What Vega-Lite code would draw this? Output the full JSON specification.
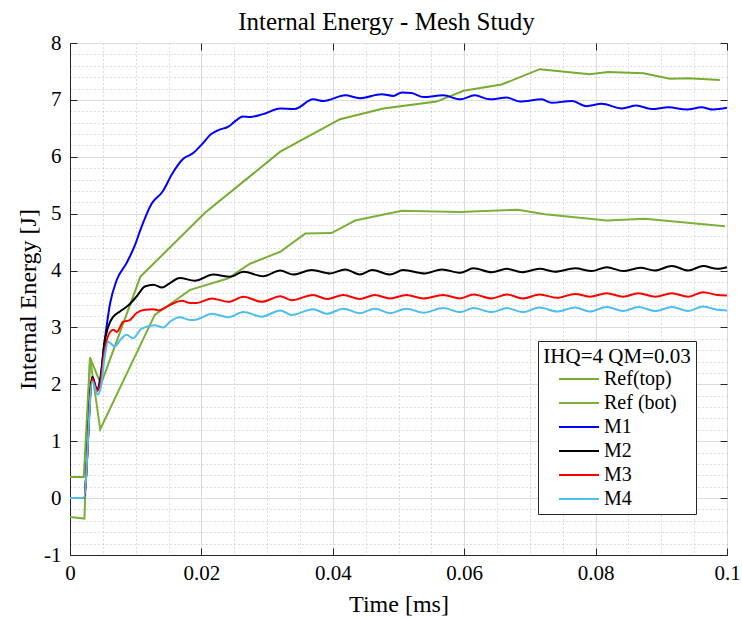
{
  "$schema": "https://vega.github.io/schema/vega-lite/v6.json",
  "width": 657,
  "height": 512,
  "autosize": "none",
  "padding": {"left": 70, "top": 43, "right": 15, "bottom": 64},
  "background": "white",
  "config": {
    "view": {"stroke": "#262626", "strokeWidth": 1},
    "font": "Liberation Serif",
    "axis": {"titleFontWeight": "normal", "labelFontWeight": "normal"}
  },
  "title": {
    "text": "Internal Energy - Mesh Study",
    "font": "Liberation Serif",
    "fontSize": 25,
    "fontWeight": "normal",
    "color": "black",
    "offset": -3,
    "dx": -12
  },
  "datasets": {
    "ref": [
      {"series": "Ref(top)", "time": 0, "energy": 0.37},
      {"series": "Ref(top)", "time": 0.0021, "energy": 0.37},
      {"series": "Ref(top)", "time": 0.00305, "energy": 2.47},
      {"series": "Ref(top)", "time": 0.0047, "energy": 2.0},
      {"series": "Ref(top)", "time": 0.0107, "energy": 3.89},
      {"series": "Ref(top)", "time": 0.0205, "energy": 5.01},
      {"series": "Ref(top)", "time": 0.032, "energy": 6.09},
      {"series": "Ref(top)", "time": 0.0411, "energy": 6.66},
      {"series": "Ref(top)", "time": 0.0477, "energy": 6.85},
      {"series": "Ref(top)", "time": 0.0558, "energy": 6.97},
      {"series": "Ref(top)", "time": 0.0599, "energy": 7.16},
      {"series": "Ref(top)", "time": 0.0657, "energy": 7.27},
      {"series": "Ref(top)", "time": 0.0715, "energy": 7.54},
      {"series": "Ref(top)", "time": 0.0791, "energy": 7.45},
      {"series": "Ref(top)", "time": 0.0819, "energy": 7.49},
      {"series": "Ref(top)", "time": 0.0873, "energy": 7.47},
      {"series": "Ref(top)", "time": 0.0913, "energy": 7.37},
      {"series": "Ref(top)", "time": 0.0941, "energy": 7.38},
      {"series": "Ref(top)", "time": 0.0989, "energy": 7.35},
      {"series": "Ref (bot)", "time": 0, "energy": -0.33},
      {"series": "Ref (bot)", "time": 0.0022, "energy": -0.36},
      {"series": "Ref (bot)", "time": 0.00305, "energy": 2.47},
      {"series": "Ref (bot)", "time": 0.0046, "energy": 1.21},
      {"series": "Ref (bot)", "time": 0.0129, "energy": 3.22},
      {"series": "Ref (bot)", "time": 0.0183, "energy": 3.66},
      {"series": "Ref (bot)", "time": 0.024, "energy": 3.86},
      {"series": "Ref (bot)", "time": 0.0274, "energy": 4.12},
      {"series": "Ref (bot)", "time": 0.032, "energy": 4.33},
      {"series": "Ref (bot)", "time": 0.0358, "energy": 4.65},
      {"series": "Ref (bot)", "time": 0.0398, "energy": 4.66},
      {"series": "Ref (bot)", "time": 0.0434, "energy": 4.88},
      {"series": "Ref (bot)", "time": 0.0505, "energy": 5.05},
      {"series": "Ref (bot)", "time": 0.0594, "energy": 5.03},
      {"series": "Ref (bot)", "time": 0.0682, "energy": 5.07},
      {"series": "Ref (bot)", "time": 0.0723, "energy": 4.99},
      {"series": "Ref (bot)", "time": 0.0817, "energy": 4.88},
      {"series": "Ref (bot)", "time": 0.0875, "energy": 4.91},
      {"series": "Ref (bot)", "time": 0.0997, "energy": 4.78}
    ],
    "mesh": [
      {"series": "M1", "time": 0, "energy": 0},
      {"series": "M1", "time": 0.0021, "energy": 0},
      {"series": "M1", "time": 0.0034, "energy": 2.13},
      {"series": "M1", "time": 0.0041, "energy": 1.91},
      {"series": "M1", "time": 0.0046, "energy": 2.1},
      {"series": "M1", "time": 0.0053, "energy": 2.78},
      {"series": "M1", "time": 0.0061, "energy": 3.42},
      {"series": "M1", "time": 0.0071, "energy": 3.83},
      {"series": "M1", "time": 0.0086, "energy": 4.13},
      {"series": "M1", "time": 0.0099, "energy": 4.45},
      {"series": "M1", "time": 0.0107, "energy": 4.71},
      {"series": "M1", "time": 0.0124, "energy": 5.17},
      {"series": "M1", "time": 0.0141, "energy": 5.39},
      {"series": "M1", "time": 0.0156, "energy": 5.71},
      {"series": "M1", "time": 0.0172, "energy": 5.96},
      {"series": "M1", "time": 0.0188, "energy": 6.07},
      {"series": "M1", "time": 0.02, "energy": 6.21},
      {"series": "M1", "time": 0.0215, "energy": 6.4},
      {"series": "M1", "time": 0.0226, "energy": 6.47},
      {"series": "M1", "time": 0.0241, "energy": 6.53},
      {"series": "M1", "time": 0.0252, "energy": 6.63},
      {"series": "M1", "time": 0.0263, "energy": 6.71},
      {"series": "M1", "time": 0.0274, "energy": 6.7},
      {"series": "M1", "time": 0.0294, "energy": 6.75},
      {"series": "M1", "time": 0.032, "energy": 6.85},
      {"series": "M1", "time": 0.0342, "energy": 6.84},
      {"series": "M1", "time": 0.037, "energy": 7.01},
      {"series": "M1", "time": 0.0386, "energy": 6.98},
      {"series": "M1", "time": 0.0419, "energy": 7.08},
      {"series": "M1", "time": 0.0441, "energy": 7.03},
      {"series": "M1", "time": 0.0474, "energy": 7.1},
      {"series": "M1", "time": 0.0492, "energy": 7.07},
      {"series": "M1", "time": 0.0505, "energy": 7.13},
      {"series": "M1", "time": 0.052, "energy": 7.12},
      {"series": "M1", "time": 0.0538, "energy": 7.05},
      {"series": "M1", "time": 0.0568, "energy": 7.08},
      {"series": "M1", "time": 0.0594, "energy": 7.01},
      {"series": "M1", "time": 0.0616, "energy": 7.08},
      {"series": "M1", "time": 0.0639, "energy": 7.01},
      {"series": "M1", "time": 0.0665, "energy": 7.04},
      {"series": "M1", "time": 0.0685, "energy": 6.97},
      {"series": "M1", "time": 0.0718, "energy": 7.01},
      {"series": "M1", "time": 0.0733, "energy": 6.95},
      {"series": "M1", "time": 0.0764, "energy": 6.98},
      {"series": "M1", "time": 0.0786, "energy": 6.89},
      {"series": "M1", "time": 0.0809, "energy": 6.93},
      {"series": "M1", "time": 0.084, "energy": 6.85},
      {"series": "M1", "time": 0.0862, "energy": 6.9},
      {"series": "M1", "time": 0.0885, "energy": 6.84},
      {"series": "M1", "time": 0.0911, "energy": 6.87},
      {"series": "M1", "time": 0.0939, "energy": 6.83},
      {"series": "M1", "time": 0.0961, "energy": 6.87},
      {"series": "M1", "time": 0.0979, "energy": 6.83},
      {"series": "M1", "time": 0.1, "energy": 6.86},
      {"series": "M2", "time": 0, "energy": 0},
      {"series": "M2", "time": 0.0021, "energy": 0},
      {"series": "M2", "time": 0.0034, "energy": 2.13},
      {"series": "M2", "time": 0.0041, "energy": 1.9},
      {"series": "M2", "time": 0.0046, "energy": 2.05},
      {"series": "M2", "time": 0.0052, "energy": 2.7},
      {"series": "M2", "time": 0.0058, "energy": 3.01},
      {"series": "M2", "time": 0.0066, "energy": 3.19},
      {"series": "M2", "time": 0.0076, "energy": 3.28},
      {"series": "M2", "time": 0.0089, "energy": 3.39},
      {"series": "M2", "time": 0.0101, "energy": 3.54},
      {"series": "M2", "time": 0.0114, "energy": 3.72},
      {"series": "M2", "time": 0.0127, "energy": 3.75},
      {"series": "M2", "time": 0.014, "energy": 3.7},
      {"series": "M2", "time": 0.0152, "energy": 3.78},
      {"series": "M2", "time": 0.0167, "energy": 3.87},
      {"series": "M2", "time": 0.019, "energy": 3.82},
      {"series": "M2", "time": 0.0218, "energy": 3.93},
      {"series": "M2", "time": 0.0244, "energy": 3.89},
      {"series": "M2", "time": 0.0264, "energy": 3.98},
      {"series": "M2", "time": 0.0294, "energy": 3.9},
      {"series": "M2", "time": 0.032, "energy": 4.0},
      {"series": "M2", "time": 0.034, "energy": 3.93},
      {"series": "M2", "time": 0.0368, "energy": 4.01},
      {"series": "M2", "time": 0.0396, "energy": 3.95},
      {"series": "M2", "time": 0.0419, "energy": 4.02},
      {"series": "M2", "time": 0.0441, "energy": 3.93},
      {"series": "M2", "time": 0.046, "energy": 4.01},
      {"series": "M2", "time": 0.0487, "energy": 3.93},
      {"series": "M2", "time": 0.0507, "energy": 4.01},
      {"series": "M2", "time": 0.054, "energy": 3.95},
      {"series": "M2", "time": 0.0566, "energy": 4.02},
      {"series": "M2", "time": 0.0594, "energy": 3.96},
      {"series": "M2", "time": 0.0614, "energy": 4.04},
      {"series": "M2", "time": 0.0642, "energy": 3.97},
      {"series": "M2", "time": 0.0665, "energy": 4.03},
      {"series": "M2", "time": 0.0688, "energy": 3.97},
      {"series": "M2", "time": 0.0715, "energy": 4.03},
      {"series": "M2", "time": 0.0738, "energy": 3.98},
      {"series": "M2", "time": 0.0769, "energy": 4.04},
      {"series": "M2", "time": 0.0794, "energy": 3.99},
      {"series": "M2", "time": 0.0817, "energy": 4.06},
      {"series": "M2", "time": 0.0842, "energy": 3.99},
      {"series": "M2", "time": 0.0868, "energy": 4.05},
      {"series": "M2", "time": 0.089, "energy": 4.0},
      {"series": "M2", "time": 0.0916, "energy": 4.08},
      {"series": "M2", "time": 0.0941, "energy": 4.0},
      {"series": "M2", "time": 0.0964, "energy": 4.08},
      {"series": "M2", "time": 0.0985, "energy": 4.03},
      {"series": "M2", "time": 0.1, "energy": 4.06},
      {"series": "M3", "time": 0, "energy": 0},
      {"series": "M3", "time": 0.0021, "energy": 0},
      {"series": "M3", "time": 0.0034, "energy": 2.1},
      {"series": "M3", "time": 0.0041, "energy": 1.88},
      {"series": "M3", "time": 0.0046, "energy": 2.0},
      {"series": "M3", "time": 0.0052, "energy": 2.55},
      {"series": "M3", "time": 0.0056, "energy": 2.78},
      {"series": "M3", "time": 0.0061, "energy": 2.92},
      {"series": "M3", "time": 0.0066, "energy": 2.96},
      {"series": "M3", "time": 0.0071, "energy": 2.92},
      {"series": "M3", "time": 0.0081, "energy": 3.1},
      {"series": "M3", "time": 0.0091, "energy": 3.13},
      {"series": "M3", "time": 0.0101, "energy": 3.25},
      {"series": "M3", "time": 0.0114, "energy": 3.31},
      {"series": "M3", "time": 0.0127, "energy": 3.32},
      {"series": "M3", "time": 0.0135, "energy": 3.3},
      {"series": "M3", "time": 0.0145, "energy": 3.35},
      {"series": "M3", "time": 0.0155, "energy": 3.41},
      {"series": "M3", "time": 0.017, "energy": 3.47},
      {"series": "M3", "time": 0.0183, "energy": 3.43},
      {"series": "M3", "time": 0.0193, "energy": 3.43},
      {"series": "M3", "time": 0.0216, "energy": 3.51},
      {"series": "M3", "time": 0.0241, "energy": 3.45},
      {"series": "M3", "time": 0.0264, "energy": 3.54},
      {"series": "M3", "time": 0.0292, "energy": 3.45},
      {"series": "M3", "time": 0.032, "energy": 3.55},
      {"series": "M3", "time": 0.0337, "energy": 3.48},
      {"series": "M3", "time": 0.037, "energy": 3.57},
      {"series": "M3", "time": 0.0391, "energy": 3.5},
      {"series": "M3", "time": 0.0416, "energy": 3.57},
      {"series": "M3", "time": 0.0441, "energy": 3.5},
      {"series": "M3", "time": 0.0464, "energy": 3.57},
      {"series": "M3", "time": 0.0487, "energy": 3.51},
      {"series": "M3", "time": 0.0512, "energy": 3.57},
      {"series": "M3", "time": 0.0538, "energy": 3.51},
      {"series": "M3", "time": 0.0568, "energy": 3.57},
      {"series": "M3", "time": 0.0594, "energy": 3.51},
      {"series": "M3", "time": 0.0614, "energy": 3.58},
      {"series": "M3", "time": 0.0642, "energy": 3.51},
      {"series": "M3", "time": 0.0665, "energy": 3.58},
      {"series": "M3", "time": 0.0689, "energy": 3.51},
      {"series": "M3", "time": 0.0715, "energy": 3.58},
      {"series": "M3", "time": 0.0741, "energy": 3.52},
      {"series": "M3", "time": 0.0769, "energy": 3.59},
      {"series": "M3", "time": 0.0791, "energy": 3.54},
      {"series": "M3", "time": 0.0817, "energy": 3.6},
      {"series": "M3", "time": 0.0842, "energy": 3.54},
      {"series": "M3", "time": 0.0865, "energy": 3.6},
      {"series": "M3", "time": 0.0891, "energy": 3.54},
      {"series": "M3", "time": 0.0916, "energy": 3.6},
      {"series": "M3", "time": 0.0941, "energy": 3.54},
      {"series": "M3", "time": 0.0964, "energy": 3.62},
      {"series": "M3", "time": 0.0985, "energy": 3.57},
      {"series": "M3", "time": 0.1, "energy": 3.56},
      {"series": "M4", "time": 0, "energy": 0},
      {"series": "M4", "time": 0.0021, "energy": 0},
      {"series": "M4", "time": 0.0034, "energy": 2.05},
      {"series": "M4", "time": 0.0042, "energy": 1.82},
      {"series": "M4", "time": 0.0047, "energy": 1.95},
      {"series": "M4", "time": 0.0053, "energy": 2.5},
      {"series": "M4", "time": 0.0058, "energy": 2.75},
      {"series": "M4", "time": 0.0068, "energy": 2.67},
      {"series": "M4", "time": 0.0078, "energy": 2.8},
      {"series": "M4", "time": 0.0086, "energy": 2.87},
      {"series": "M4", "time": 0.0096, "energy": 2.81},
      {"series": "M4", "time": 0.0109, "energy": 2.98},
      {"series": "M4", "time": 0.0129, "energy": 3.04},
      {"series": "M4", "time": 0.0142, "energy": 3.0},
      {"series": "M4", "time": 0.0152, "energy": 3.1},
      {"series": "M4", "time": 0.0167, "energy": 3.18},
      {"series": "M4", "time": 0.0183, "energy": 3.13},
      {"series": "M4", "time": 0.0193, "energy": 3.14},
      {"series": "M4", "time": 0.0216, "energy": 3.24},
      {"series": "M4", "time": 0.0241, "energy": 3.18},
      {"series": "M4", "time": 0.0264, "energy": 3.27},
      {"series": "M4", "time": 0.0292, "energy": 3.19},
      {"series": "M4", "time": 0.032, "energy": 3.3},
      {"series": "M4", "time": 0.0337, "energy": 3.22},
      {"series": "M4", "time": 0.037, "energy": 3.32},
      {"series": "M4", "time": 0.0391, "energy": 3.24},
      {"series": "M4", "time": 0.0416, "energy": 3.33},
      {"series": "M4", "time": 0.0441, "energy": 3.25},
      {"series": "M4", "time": 0.0464, "energy": 3.33},
      {"series": "M4", "time": 0.0487, "energy": 3.25},
      {"series": "M4", "time": 0.0512, "energy": 3.33},
      {"series": "M4", "time": 0.0538, "energy": 3.26},
      {"series": "M4", "time": 0.0568, "energy": 3.34},
      {"series": "M4", "time": 0.0594, "energy": 3.27},
      {"series": "M4", "time": 0.0614, "energy": 3.34},
      {"series": "M4", "time": 0.0642, "energy": 3.27},
      {"series": "M4", "time": 0.0665, "energy": 3.34},
      {"series": "M4", "time": 0.0689, "energy": 3.27},
      {"series": "M4", "time": 0.0715, "energy": 3.35},
      {"series": "M4", "time": 0.0741, "energy": 3.28},
      {"series": "M4", "time": 0.0769, "energy": 3.35},
      {"series": "M4", "time": 0.0791, "energy": 3.28},
      {"series": "M4", "time": 0.0817, "energy": 3.36},
      {"series": "M4", "time": 0.0842, "energy": 3.29},
      {"series": "M4", "time": 0.0865, "energy": 3.36},
      {"series": "M4", "time": 0.0891, "energy": 3.29},
      {"series": "M4", "time": 0.0916, "energy": 3.36},
      {"series": "M4", "time": 0.0941, "energy": 3.29},
      {"series": "M4", "time": 0.0964, "energy": 3.37},
      {"series": "M4", "time": 0.0985, "energy": 3.31},
      {"series": "M4", "time": 0.1, "energy": 3.3}
    ]
  },
  "layer": [
    {
      "data": {"name": "ref"},
      "mark": {"type": "line", "strokeWidth": 2, "interpolate": "linear", "clip": true},
      "encoding": {
        "x": {
          "field": "time", "type": "quantitative",
          "scale": {"domain": [0, 0.1], "nice": false, "zero": false},
          "axis": {
            "orient": "top", "values": [0, 0.02, 0.04, 0.06, 0.08, 0.1],
            "labels": false, "grid": false, "domain": false, "title": null,
            "ticks": true, "tickSize": -7, "tickColor": "#262626", "tickWidth": 1
          }
        },
        "y": {
          "field": "energy", "type": "quantitative",
          "scale": {"domain": [-1, 8], "nice": false, "zero": false},
          "axis": {
            "orient": "right", "values": [-1, 0, 1, 2, 3, 4, 5, 6, 7, 8],
            "labels": false, "grid": false, "domain": false, "title": null,
            "ticks": true, "tickSize": -7, "tickColor": "#262626", "tickWidth": 1
          }
        },
        "color": {
          "field": "series", "type": "nominal",
          "scale": {
            "domain": ["Ref(top)", "Ref (bot)", "M1", "M2", "M3", "M4"],
            "range": ["#77AC30", "#7CB03A", "#0000FF", "#000000", "#FF0000", "#4DBEEE"]
          },
          "legend": {
            "orient": "none", "legendX": 468, "legendY": 298,
            "title": "IHQ=4 QM=0.03", "titleFont": "Liberation Serif", "titleFontSize": 21,
            "titleFontWeight": "normal", "titleColor": "black", "titleAnchor": "middle", "titlePadding": 2,
            "labelFont": "Liberation Serif", "labelFontSize": 20, "labelColor": "black",
            "symbolType": "M-1,0H7", "symbolSize": 100, "symbolStrokeWidth": 2,
            "symbolOffset": -4, "labelOffset": 30, "rowPadding": 4,
            "padding": 5, "strokeColor": "#262626", "fillColor": "white"
          }
        }
      }
    },
    {
      "data": {"name": "mesh"},
      "mark": {"type": "line", "strokeWidth": 2, "interpolate": "monotone", "clip": true},
      "encoding": {
        "x": {
          "field": "time", "type": "quantitative",
          "scale": {"domain": [0, 0.1], "nice": false, "zero": false},
          "axis": {
            "orient": "bottom",
            "values": [0, 0.005, 0.01, 0.015, 0.02, 0.025, 0.03, 0.035, 0.04, 0.045, 0.05, 0.055, 0.06, 0.065, 0.07, 0.075, 0.08, 0.085, 0.09, 0.095, 0.1],
            "title": "Time [ms]", "titleFont": "Liberation Serif", "titleFontSize": 24,
            "titleFontWeight": "normal", "titleColor": "black", "titleBaseline": "middle", "titleY": 49,
            "labelExpr": "round(datum.value * 1000) % 20 === 0 ? format(datum.value, '~g') : ''",
            "labelFont": "Liberation Serif", "labelFontSize": 21, "labelColor": "black",
            "labelPadding": 14, "labelFlush": false, "labelOverlap": false,
            "domainColor": "#262626",
            "tickSize": -7, "tickWidth": 1,
            "tickColor": {"condition": {"test": "round(datum.value * 1000) % 20 === 0", "value": "#262626"}, "value": "rgba(0,0,0,0)"},
            "grid": true, "gridWidth": 1,
            "gridColor": {"condition": {"test": "round(datum.value * 1000) % 20 === 0", "value": "#dcdcdc"}, "value": "#bdbdbd"},
            "gridDash": {"condition": {"test": "round(datum.value * 1000) % 20 === 0", "value": []}, "value": [1, 3]}
          }
        },
        "y": {
          "field": "energy", "type": "quantitative",
          "scale": {"domain": [-1, 8], "nice": false, "zero": false},
          "axis": {
            "orient": "left",
            "values": [-1, -0.8, -0.6, -0.4, -0.2, 0, 0.2, 0.4, 0.6, 0.8, 1, 1.2, 1.4, 1.6, 1.8, 2, 2.2, 2.4, 2.6, 2.8, 3, 3.2, 3.4, 3.6, 3.8, 4, 4.2, 4.4, 4.6, 4.8, 5, 5.2, 5.4, 5.6, 5.8, 6, 6.2, 6.4, 6.6, 6.8, 7, 7.2, 7.4, 7.6, 7.8, 8],
            "title": "Internal Energy [J]", "titleFont": "Liberation Serif", "titleFontSize": 24,
            "titleFontWeight": "normal", "titleColor": "black", "titleBaseline": "middle", "titleX": -42, "titleAngle": -90,
            "labelExpr": "abs(datum.value - round(datum.value)) < 0.001 ? '' + round(datum.value) : ''",
            "labelFont": "Liberation Serif", "labelFontSize": 21, "labelColor": "black",
            "labelPadding": 16, "labelFlush": false, "labelOverlap": false,
            "domainColor": "#262626",
            "tickSize": -7, "tickWidth": 1,
            "tickColor": {"condition": {"test": "abs(datum.value - round(datum.value)) < 0.001", "value": "#262626"}, "value": "rgba(0,0,0,0)"},
            "grid": true, "gridWidth": 1,
            "gridColor": {"condition": {"test": "abs(datum.value - round(datum.value)) < 0.001", "value": "#dcdcdc"}, "value": "#bdbdbd"},
            "gridDash": {"condition": {"test": "abs(datum.value - round(datum.value)) < 0.001", "value": []}, "value": [1, 3]}
          }
        },
        "color": {
          "field": "series", "type": "nominal",
          "scale": {
            "domain": ["Ref(top)", "Ref (bot)", "M1", "M2", "M3", "M4"],
            "range": ["#77AC30", "#7CB03A", "#0000FF", "#000000", "#FF0000", "#4DBEEE"]
          },
          "legend": {
            "orient": "none", "legendX": 468, "legendY": 298,
            "title": "IHQ=4 QM=0.03", "titleFont": "Liberation Serif", "titleFontSize": 21,
            "titleFontWeight": "normal", "titleColor": "black", "titleAnchor": "middle", "titlePadding": 2,
            "labelFont": "Liberation Serif", "labelFontSize": 20, "labelColor": "black",
            "symbolType": "M-1,0H7", "symbolSize": 100, "symbolStrokeWidth": 2,
            "symbolOffset": -4, "labelOffset": 30, "rowPadding": 4,
            "padding": 5, "strokeColor": "#262626", "fillColor": "white"
          }
        }
      }
    }
  ],
  "resolve": {"axis": {"x": "independent", "y": "independent"}}
}
